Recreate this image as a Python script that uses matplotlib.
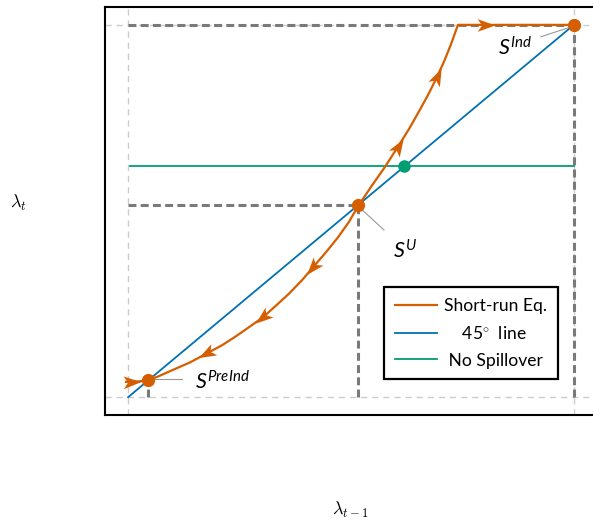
import numpy as np
import matplotlib
matplotlib.use('Agg')
import matplotlib.pyplot as plt
from matplotlib.path import Path
from matplotlib.markers import MarkerStyle
from matplotlib.transforms import Affine2D

plt.rcParams['font.family'] = ['Lato', 'DejaVu Sans']
plt.rcParams['mathtext.fontset'] = 'custom'
plt.rcParams['mathtext.rm'] = 'Lato'
plt.rcParams['mathtext.it'] = 'Lato:italic'

# short-run equilibrium curve (lambda_{t-1}, lambda_t)
sr_x = [-0.005, 0.02, 0.045, 0.07, 0.10, 0.14, 0.177, 0.21, 0.24, 0.27, 0.303, 0.33,
        0.36, 0.39, 0.415, 0.445, 0.47, 0.495, 0.516, 0.545, 0.576, 0.605, 0.63,
        0.65, 0.673, 0.693, 0.71, 0.725, 0.74, 1.0]
sr_y = [0.041, 0.042, 0.045, 0.057, 0.073, 0.094, 0.118, 0.139, 0.162, 0.187, 0.215,
        0.244, 0.277, 0.314, 0.349, 0.391, 0.428, 0.470, 0.513, 0.565, 0.618, 0.672,
        0.720, 0.762, 0.812, 0.860, 0.905, 0.950, 1.0, 1.0]

# steady states
s_pre = (0.045, 0.045)
s_u = (0.515, 0.515)
s_ind = (1.0, 1.0)
no_spill = 0.62

# arrows on the curve: x position, direction (+1 right, -1 left)
arrow_x = [0.006, 0.177, 0.303, 0.415, 0.605, 0.693, 0.80]
arrow_dir = [1, -1, -1, -1, 1, 1, 1]

orange = '#d55e00'
blue = '#0072b2'
green = '#009e73'

fig = plt.figure(figsize=(5.93, 5.21), dpi=100)
ax = fig.add_axes([105 / 593, 106 / 521, 492 / 593, 408 / 521])
ax.set_xlim(-0.052, 1.052)
ax.set_ylim(-0.048, 1.048)

# light guide lines
for v in [0, 1]:
    ax.axvline(v, color='#cccccc', lw=1, ls=(0, (4.5, 3.5)), zorder=1)
    ax.axhline(v, color='#cccccc', lw=1, ls=(0, (4.5, 3.5)), zorder=1)

# dark dashed projections
dk = dict(color='#7a7a7a', lw=2.2, ls=(0, (2.6, 1.4)), zorder=2)
ax.plot([0, 1], [1, 1], **dk)
ax.plot([1, 1], [0, 1], **dk)
ax.plot([0, s_u[0]], [s_u[1], s_u[1]], **dk)
ax.plot([s_u[0], s_u[0]], [0, s_u[1]], **dk)
ax.plot([s_pre[0], s_pre[0]], [0, s_pre[1]], **dk)

ax.plot([0, 1], [0, 1], color=blue, lw=1.3, zorder=3, label=r'45$^{\circ}$ line')
ax.plot([0.005, 1], [no_spill, no_spill], color=green, lw=1.3, zorder=3, label='No Spillover')
ax.plot(sr_x, sr_y, color=orange, lw=1.6, zorder=4, label='Short-run Eq.')

# arrowheads
head = Path([(1, 0), (-0.8, 0.65), (-0.35, 0), (-0.8, -0.65), (1, 0)],
            [Path.MOVETO, Path.LINETO, Path.LINETO, Path.LINETO, Path.CLOSEPOLY])
for xc, d in zip(arrow_x, arrow_dir):
    dx = 0.01
    xa, xb = xc - dx, xc + dx
    pa = ax.transData.transform((xa, np.interp(xa, sr_x, sr_y)))
    pb = ax.transData.transform((xb, np.interp(xb, sr_x, sr_y)))
    ang = np.degrees(np.arctan2(pb[1] - pa[1], pb[0] - pa[0]))
    if d < 0:
        ang += 180
    m = MarkerStyle(head, transform=Affine2D().rotate_deg(ang))
    ax.plot([xc], [np.interp(xc, sr_x, sr_y)], marker=m, ms=14, color=orange,
            mec=orange, mew=0, ls='none', zorder=5)

# steady state dots
ax.plot([s_pre[0], s_u[0], s_ind[0]], [s_pre[1], s_u[1], s_ind[1]], 'o',
        color=orange, ms=8.5, zorder=6)
ax.plot([0.62], [0.62], 'o', color=green, ms=8, zorder=6)

# labels with leader lines
lead = dict(color='#999999', lw=0.8, zorder=2)
ax.plot([0.926, 0.987], [0.968, 0.992], **lead)
ax.plot([0.525, 0.574], [0.503, 0.449], **lead)
ax.plot([0.061, 0.121], [0.048, 0.048], **lead)
ax.text(0.83, 0.938, r'$S^{Ind}$', fontsize=15.5, va='center')
ax.text(0.594, 0.392, r'$S^{U}$', fontsize=15.5, va='center')
ax.text(0.150, 0.043, r'$S^{PreInd}$', fontsize=15.5, va='center')

ax.set_xticks([])
ax.set_yticks([])
for s in ax.spines.values():
    s.set_linewidth(1.5)
    s.set_color('black')

ax.set_xlabel(r'$\lambda_{t-1}$', fontsize=13, math_fontfamily='cm')
ax.set_ylabel(r'$\lambda_t$', fontsize=13, rotation=0, math_fontfamily='cm')
ax.xaxis.set_label_coords(0.498, -0.207)
ax.yaxis.set_label_coords(-0.177, 0.495)

h, l = ax.get_legend_handles_labels()
order = [2, 0, 1]
pad = ['Short-run Eq.', r'    45$^{\circ}$  line', ' No Spillover']
leg = ax.legend([h[i] for i in order], pad, loc='upper left',
                bbox_to_anchor=(384 / 593, 1 - 287 / 521), bbox_transform=fig.transFigure,
                borderaxespad=0, fontsize=12.6, fancybox=False, framealpha=1,
                edgecolor='black', handlelength=2.4, handletextpad=0.4, labelspacing=0.62,
                borderpad=0.62)
leg.get_frame().set_linewidth(1.6)

fig.savefig('out.png', dpi=100)
